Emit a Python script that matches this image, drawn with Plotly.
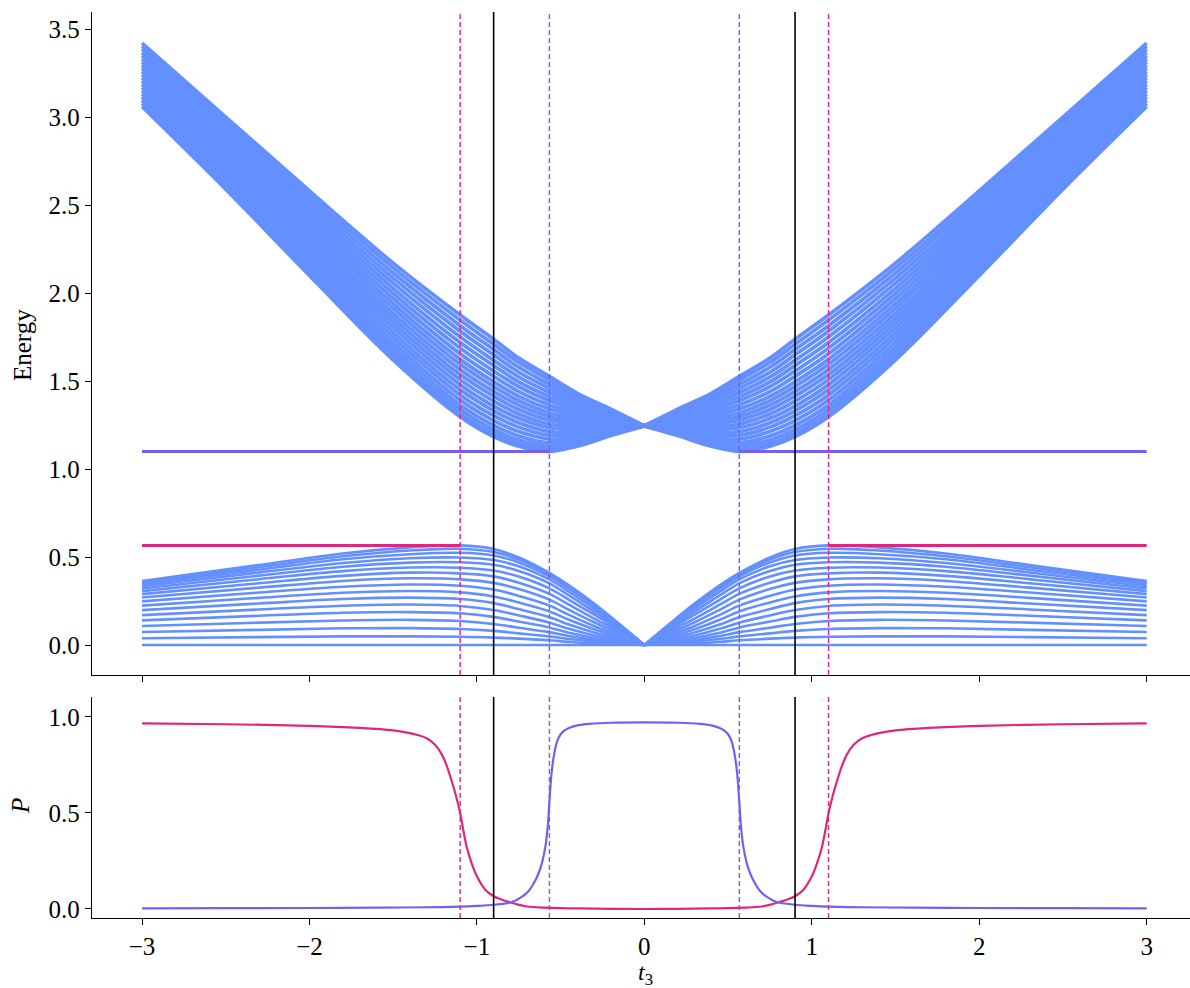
import plotly.graph_objects as go
from plotly.subplots import make_subplots

# ---------------- data (t3 >= 0 half; chart is mirror-symmetric) -------------
T_LOW = [0, 0.15, 0.3, 0.45, 0.57, 0.75, 0.9, 1.1, 1.4, 1.8, 2.3, 3.0]
LOWER_BAND = [
    [0, 0, 0, 0, 0, 0, 0, 0, 0, 0, 0, 0],
    [0, 0.005, 0.009, 0.018, 0.027, 0.036, 0.042, 0.047, 0.049, 0.049, 0.045, 0.038],
    [0, 0.010, 0.019, 0.034, 0.049, 0.066, 0.080, 0.091, 0.096, 0.095, 0.086, 0.074],
    [0, 0.014, 0.028, 0.051, 0.073, 0.098, 0.119, 0.136, 0.143, 0.139, 0.127, 0.108],
    [0, 0.020, 0.040, 0.070, 0.100, 0.133, 0.160, 0.180, 0.187, 0.183, 0.166, 0.140],
    [0, 0.028, 0.054, 0.092, 0.128, 0.168, 0.199, 0.222, 0.230, 0.223, 0.202, 0.170],
    [0, 0.036, 0.071, 0.116, 0.159, 0.204, 0.238, 0.261, 0.269, 0.261, 0.236, 0.198],
    [0, 0.046, 0.089, 0.143, 0.192, 0.242, 0.276, 0.299, 0.307, 0.297, 0.268, 0.224],
    [0, 0.055, 0.108, 0.171, 0.225, 0.279, 0.315, 0.337, 0.344, 0.331, 0.298, 0.248],
    [0, 0.066, 0.129, 0.200, 0.259, 0.318, 0.353, 0.373, 0.379, 0.364, 0.326, 0.270],
    [0, 0.077, 0.150, 0.229, 0.292, 0.354, 0.390, 0.407, 0.411, 0.393, 0.351, 0.289],
    [0, 0.088, 0.172, 0.257, 0.323, 0.389, 0.423, 0.439, 0.440, 0.420, 0.374, 0.306],
    [0, 0.097, 0.190, 0.282, 0.352, 0.421, 0.456, 0.470, 0.468, 0.445, 0.394, 0.321],
    [0, 0.106, 0.207, 0.303, 0.374, 0.447, 0.483, 0.497, 0.493, 0.466, 0.412, 0.334],
    [0, 0.113, 0.221, 0.321, 0.392, 0.469, 0.509, 0.524, 0.516, 0.487, 0.428, 0.345],
    [0, 0.118, 0.230, 0.332, 0.403, 0.485, 0.528, 0.547, 0.537, 0.504, 0.442, 0.355],
    [0, 0.120, 0.235, 0.339, 0.411, 0.497, 0.545, 0.566, 0.555, 0.520, 0.455, 0.364],
]

T_UP = [0, 0.2, 0.4, 0.57, 0.75, 0.9, 1.1, 1.5, 2.0, 2.5, 3.0]
UPPER_BAND = [
    [1.245, 1.190, 1.130, 1.100, 1.130, 1.184, 1.297, 1.620, 2.100, 2.590, 3.060],
    [1.245, 1.195, 1.139, 1.113, 1.145, 1.201, 1.314, 1.642, 2.124, 2.611, 3.078],
    [1.245, 1.201, 1.151, 1.130, 1.165, 1.223, 1.338, 1.667, 2.148, 2.631, 3.096],
    [1.245, 1.207, 1.165, 1.149, 1.188, 1.248, 1.364, 1.693, 2.172, 2.652, 3.114],
    [1.245, 1.215, 1.180, 1.171, 1.213, 1.275, 1.392, 1.720, 2.196, 2.672, 3.132],
    [1.245, 1.222, 1.195, 1.192, 1.238, 1.303, 1.421, 1.748, 2.220, 2.693, 3.150],
    [1.245, 1.230, 1.210, 1.213, 1.263, 1.331, 1.450, 1.775, 2.244, 2.713, 3.168],
    [1.245, 1.237, 1.225, 1.235, 1.288, 1.358, 1.479, 1.803, 2.268, 2.734, 3.186],
    [1.245, 1.245, 1.240, 1.256, 1.313, 1.386, 1.508, 1.830, 2.292, 2.754, 3.204],
    [1.245, 1.252, 1.255, 1.278, 1.338, 1.414, 1.537, 1.858, 2.316, 2.775, 3.222],
    [1.245, 1.260, 1.270, 1.299, 1.363, 1.441, 1.566, 1.885, 2.340, 2.795, 3.240],
    [1.245, 1.267, 1.285, 1.320, 1.388, 1.469, 1.595, 1.913, 2.364, 2.816, 3.258],
    [1.245, 1.275, 1.300, 1.342, 1.413, 1.496, 1.624, 1.940, 2.388, 2.836, 3.276],
    [1.245, 1.283, 1.316, 1.365, 1.440, 1.527, 1.655, 1.969, 2.412, 2.857, 3.294],
    [1.245, 1.291, 1.333, 1.389, 1.468, 1.557, 1.687, 1.998, 2.436, 2.877, 3.312],
    [1.245, 1.300, 1.349, 1.412, 1.495, 1.588, 1.719, 2.027, 2.460, 2.898, 3.330],
    [1.245, 1.308, 1.366, 1.436, 1.523, 1.618, 1.751, 2.056, 2.484, 2.918, 3.348],
    [1.245, 1.316, 1.382, 1.460, 1.550, 1.649, 1.783, 2.085, 2.508, 2.939, 3.366],
    [1.245, 1.324, 1.399, 1.483, 1.578, 1.679, 1.814, 2.114, 2.532, 2.959, 3.384],
    [1.245, 1.333, 1.415, 1.507, 1.605, 1.709, 1.846, 2.143, 2.556, 2.980, 3.402],
    [1.245, 1.340, 1.430, 1.528, 1.630, 1.737, 1.875, 2.170, 2.580, 3.000, 3.420],
]

# edge-state energies and where they detach from the bulk bands
EDGE_LOW_X = [-3.0, -1.1, None, 1.1, 3.0]
EDGE_LOW_Y = [0.566, 0.566, None, 0.566, 0.566]
EDGE_UP_X = [-3.0, -0.567, None, 0.567, 3.0]
EDGE_UP_Y = [1.10, 1.10, None, 1.10, 1.10]

# edge polarisation P (t3 >= 0)
T_P_MAG = [0, 0.2, 0.4, 0.5, 0.6, 0.7, 0.76, 0.81, 0.85, 0.9, 0.95, 1.0, 1.03, 1.06, 1.08, 1.1,
           1.125, 1.15, 1.18, 1.21, 1.25, 1.3, 1.35, 1.4, 1.5, 1.7, 2.0, 2.5, 3.0]
P_MAGENTA = [0.000, 0.001, 0.003, 0.004, 0.007, 0.013, 0.024, 0.037, 0.048, 0.066, 0.100,
             0.170, 0.235, 0.320, 0.405, 0.500, 0.590, 0.665, 0.745, 0.805, 0.855, 0.889,
             0.905, 0.916, 0.930, 0.943, 0.954, 0.962, 0.967]
T_P_PUR = [0, 0.2, 0.33, 0.4, 0.45, 0.48, 0.5, 0.52, 0.54, 0.555, 0.567, 0.575, 0.59, 0.61, 0.63,
           0.65, 0.69, 0.73, 0.79, 0.9, 1.0, 1.1, 1.3, 1.6, 2.0, 2.5, 3.0]
P_PURPLE = [0.972, 0.970, 0.964, 0.956, 0.943, 0.928, 0.910, 0.875, 0.800, 0.700, 0.560, 0.450,
            0.330, 0.245, 0.190, 0.151, 0.095, 0.064, 0.036, 0.022, 0.016, 0.012, 0.009, 0.007,
            0.005, 0.004, 0.003]

V_RED = [-1.1, 1.1]
V_BLACK = [-0.9, 0.9]
V_PURPLE = [-0.567, 0.567]

X_TICKS = [-3, -2, -1, 0, 1, 2, 3]
E_TICKS = [0.0, 0.5, 1.0, 1.5, 2.0, 2.5, 3.0, 3.5]
P_TICKS = [0.0, 0.5, 1.0]

BLUE = "#648FFF"
PURPLE = "#785EF0"
MAGENTA = "#DC267F"
FONT = "'Times New Roman', Tinos, 'Liberation Serif', Times, 'DejaVu Serif', serif"
FS = 25


def mirror_split(ts, vs):
    """both halves, broken at t3 = 0 so the cusp stays sharp"""
    xs = [-t for t in reversed(ts)] + [None] + list(ts)
    ys = list(reversed(vs)) + [None] + list(vs)
    return xs, ys


def mirror_smooth(ts, vs):
    xs = [-t for t in reversed(ts[1:])] + list(ts)
    ys = list(reversed(vs[1:])) + list(vs)
    return xs, ys


W, H = 1190, 988
ML, MR, MT, MB = 92, 0, 12, 70
plot_h = H - MT - MB

fig = make_subplots(rows=2, cols=1, shared_xaxes=False)

for line in LOWER_BAND:
    x, y = mirror_split(T_LOW, line)
    fig.add_trace(go.Scatter(x=x, y=y, mode="lines",
                             line=dict(color=BLUE, width=2.6, shape="spline", smoothing=1.0),
                             showlegend=False, hoverinfo="skip"), row=1, col=1)
for line in UPPER_BAND:
    x, y = mirror_split(T_UP, line)
    fig.add_trace(go.Scatter(x=x, y=y, mode="lines",
                             line=dict(color=BLUE, width=3.7, shape="spline", smoothing=1.0),
                             showlegend=False, hoverinfo="skip"), row=1, col=1)

fig.add_trace(go.Scatter(x=EDGE_UP_X, y=EDGE_UP_Y, mode="lines",
                         line=dict(color=PURPLE, width=3), showlegend=False), row=1, col=1)
fig.add_trace(go.Scatter(x=EDGE_LOW_X, y=EDGE_LOW_Y, mode="lines",
                         line=dict(color=MAGENTA, width=3), showlegend=False), row=1, col=1)

x, y = mirror_smooth(T_P_MAG, P_MAGENTA)
fig.add_trace(go.Scatter(x=x, y=y, mode="lines",
                         line=dict(color=MAGENTA, width=2.2, shape="spline", smoothing=0.8),
                         showlegend=False), row=2, col=1)
x, y = mirror_smooth(T_P_PUR, P_PURPLE)
fig.add_trace(go.Scatter(x=x, y=y, mode="lines",
                         line=dict(color=PURPLE, width=2.2, shape="spline", smoothing=0.8),
                         showlegend=False), row=2, col=1)

shapes = []
for xref, yref in (("x", "y domain"), ("x2", "y2 domain")):
    for v in V_RED:
        shapes.append(dict(type="line", xref=xref, yref=yref, x0=v, x1=v, y0=0, y1=1,
                           line=dict(color=MAGENTA, width=1.4, dash="5px,3px")))
    for v in V_PURPLE:
        shapes.append(dict(type="line", xref=xref, yref=yref, x0=v, x1=v, y0=0, y1=1,
                           line=dict(color=PURPLE, width=1.4, dash="5px,3px")))
    for v in V_BLACK:
        shapes.append(dict(type="line", xref=xref, yref=yref, x0=v, x1=v, y0=0, y1=1,
                           line=dict(color="black", width=1.6)))

x_range = [-3.2986, 3.2586]
axis_common = dict(showline=True, linecolor="black", linewidth=1.3, ticks="outside",
                   ticklen=6, tickwidth=1.3, tickcolor="black", showgrid=False, zeroline=False,
                   mirror=False, tickfont=dict(family=FONT, size=FS, color="black"))

top_dom = [(918 - 675) / plot_h, 1.0]
bot_dom = [0.0, (918 - 697) / plot_h]

fig.update_layout(
    width=W, height=H, margin=dict(l=ML, r=MR, t=MT, b=MB),
    paper_bgcolor="white", plot_bgcolor="white",
    font=dict(family=FONT, size=FS, color="black"),
    shapes=shapes,
    xaxis=dict(axis_common, range=x_range, domain=[0, 1], tickvals=X_TICKS, showticklabels=False,
               anchor="y"),
    yaxis=dict(axis_common, range=[-0.1705, 3.597], domain=top_dom, tickvals=E_TICKS,
               ticktext=[f"{v:.1f}" for v in E_TICKS], anchor="x"),
    xaxis2=dict(axis_common, range=x_range, domain=[0, 1], tickvals=X_TICKS,
                ticktext=[str(v).replace("-", "\u2212") for v in X_TICKS], anchor="y2"),
    yaxis2=dict(axis_common, range=[-0.047, 1.104], domain=bot_dom, tickvals=P_TICKS,
                ticktext=[f"{v:.1f}" for v in P_TICKS], anchor="x2"),
)


def px_to_paper(px, py):
    return (px - ML) / (W - ML - MR), (H - MB - py) / plot_h


ex, ey = px_to_paper(22, 345)
fig.add_annotation(text="Energy", x=ex, y=ey, xref="paper", yref="paper", showarrow=False,
                   xanchor="center", yanchor="middle", textangle=-90,
                   font=dict(family=FONT, size=FS))
pxp, pyp = px_to_paper(20, 806)
fig.add_annotation(text="<i>P</i>", x=pxp, y=pyp, xref="paper", yref="paper", showarrow=False,
                   xanchor="center", yanchor="middle", textangle=-90,
                   font=dict(family=FONT, size=FS))
tx, ty = px_to_paper(645, 974)
fig.add_annotation(text="<i>t</i><sub>3</sub>", x=tx, y=ty, xref="paper", yref="paper",
                   showarrow=False, xanchor="center", yanchor="middle",
                   font=dict(family=FONT, size=FS - 1))

fig.write_html("out.html")
